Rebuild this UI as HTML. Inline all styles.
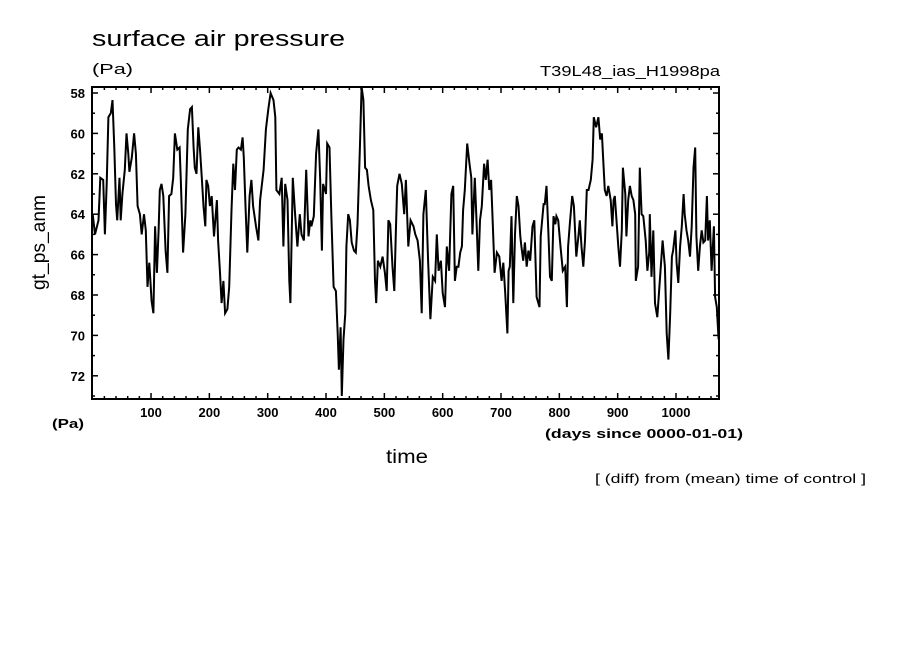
<!DOCTYPE html>
<html><head><meta charset="utf-8"><style>
body{margin:0;background:#fff}
svg{display:block}
text{font-family:"Liberation Sans","DejaVu Sans",sans-serif;fill:#000}
</style></head><body>
<svg id="chart" width="904" height="654" viewBox="0 0 904 654">
<rect width="904" height="654" fill="#fff"/>
<text x="92" y="46" font-size="22" textLength="253" lengthAdjust="spacingAndGlyphs">surface air pressure</text>
<text x="92" y="74" font-size="15" textLength="41" lengthAdjust="spacingAndGlyphs">(Pa)</text>
<text x="540" y="76" font-size="15" textLength="180" lengthAdjust="spacingAndGlyphs">T39L48_ias_H1998pa</text>
<text x="52" y="428" font-size="13" font-weight="bold" textLength="32" lengthAdjust="spacingAndGlyphs">(Pa)</text>
<text x="545" y="438" font-size="13" font-weight="bold" textLength="198" lengthAdjust="spacingAndGlyphs">(days since 0000-01-01)</text>
<text x="386" y="463" font-size="19" textLength="42" lengthAdjust="spacingAndGlyphs">time</text>
<text x="595" y="483" font-size="13" textLength="271" lengthAdjust="spacingAndGlyphs">[ (diff) from (mean) time of control ]</text>
<text x="0" y="0" font-size="19" textLength="95" lengthAdjust="spacingAndGlyphs" transform="translate(45,290) rotate(-90)">gt_ps_anm</text>
<g id="ticks"></g>
<g id="series"></g>
<rect x="92" y="87" width="627" height="312" fill="none" stroke="#000" stroke-width="2"/>
</svg>
<script>
const days=[0,4,10,13,18,21,24,27,31,34,37,40,42,46,48,51,55,58,61,63,67,71,74,77,81,84,88,91,94,97,101,104,107,110,113,115,118,121,125,128,131,135,138,141,145,149,151,155,159,163,167,170,173,175,178,181,184,187,190,193,195,198,201,204,208,213,215,218,221,224,227,231,234,238,241,244,247,250,254,257,259,262,265,269,272,
275,280,284,287,293,297,301,305,310,313,315,320,324,327,330,334,337,339,343,347,351,355,358,362,366,370,373,375,379,383,387,390,393,395,400,402,406,409,413,417,420,422,425,427,430,433,435,438,441,444,448,451,454,458,461,464,467,470,473,477,481,484,486,489,493,497,501,504,507,510,514,517,520,522,526,530,534,537,541,545,550,
553,557,561,564,567,571,575,579,583,587,590,593,597,600,604,607,611,615,618,621,624,627,630,633,635,638,642,646,649,651,655,658,661,664,667,671,674,677,680,683,686,689,693,697,701,704,707,711,713,715,718,721,724,727,730,733,735,738,741,744,747,750,754,757,761,766,768,773,775,778,781,784,787,790,793,795,798,802,806,810,813,815,818,822,
825,829,833,835,838,841,844,847,850,854,857,859,863,867,870,873,875,878,881,884,888,891,893,895,898,901,904,907,909,913,915,918,921,924,927,930,931,935,938,941,944,948,951,954,955,958,961,964,968,971,974,977,981,984,987,990,993,995,999,1001,1004,1007,1010,1013,1015,1018,1021,1024,1027,1030,1033,1035,1038,1041,1044,1047,1050,1053,1055,1058,1061,1065,1067,1070,1073];
const values=[64.0,65.0,64.3,62.2,62.3,65.0,62.5,59.2,59.0,58.35,60.7,63.5,64.3,62.2,64.3,63.0,61.8,60.0,61.0,61.9,61.2,60.0,61.0,63.6,64.0,65.0,64.0,64.8,67.6,66.4,68.3,68.9,64.6,66.9,64.8,62.8,62.5,63.1,65.8,66.9,63.1,63.0,62.2,60.0,60.8,60.7,62.3,65.9,64.0,59.8,58.8,58.7,60.7,61.7,62.0,59.7,60.8,62.2,63.6,64.6,62.3,62.6,63.6,63.1,65.1,63.3,65.3,66.8,68.4,67.3,68.9,68.7,67.6,63.8,61.5,62.8,60.8,60.7,60.8,60.2,61.2,63.6,65.9,63.1,62.3,
63.6,64.6,65.3,63.3,61.8,59.8,58.8,58.0,58.35,59.2,62.8,63.0,62.2,65.6,62.5,63.3,67.3,68.4,62.2,64.0,65.6,64.0,65.0,65.3,61.8,65.1,64.3,64.6,64.1,61.0,59.8,62.3,65.8,62.5,63.0,60.5,60.7,64.0,67.6,67.8,69.9,71.7,69.6,73.0,70.2,68.9,65.6,64.0,64.3,65.4,65.8,65.9,64.5,60.7,57.7,58.35,61.7,61.8,62.6,63.3,63.8,67.3,68.4,66.3,66.6,66.1,66.9,67.8,64.3,64.5,66.6,67.8,64.6,62.6,62.0,62.5,64.0,62.3,65.6,64.3,64.6,
65.0,65.3,66.3,68.9,64.0,62.8,66.3,69.2,67.1,67.3,65.0,66.8,66.3,67.9,68.6,65.6,66.8,63.0,62.6,67.3,66.6,66.6,65.9,65.6,63.8,62.8,60.5,61.5,62.2,65.0,62.2,64.3,66.8,64.3,63.6,61.5,62.3,61.3,62.8,62.3,64.5,66.9,65.9,66.1,67.3,66.4,67.8,69.9,66.8,66.6,64.1,68.4,65.0,63.1,63.6,65.1,65.6,66.3,65.4,66.6,65.8,66.3,64.6,64.3,68.1,68.6,65.1,63.5,63.5,62.6,64.8,67.1,67.3,64.1,64.5,64.1,64.3,65.6,66.8,66.6,68.6,65.6,64.5,63.1,
63.6,66.1,65.0,64.3,65.6,66.6,65.3,62.8,62.8,62.3,61.3,59.2,59.7,59.2,60.3,60.0,61.2,62.8,63.1,62.6,63.3,64.6,63.3,63.1,64.3,65.6,66.6,64.8,61.7,63.0,65.1,63.3,62.6,63.1,63.3,64.0,67.3,66.6,61.7,64.0,64.1,65.3,66.8,65.9,64.0,67.1,64.8,68.4,69.1,67.8,66.6,65.3,66.6,69.9,71.2,68.9,66.1,65.8,64.8,66.4,67.4,65.6,64.6,63.0,64.0,64.8,65.3,66.1,64.6,61.7,60.7,65.1,66.8,65.6,64.8,65.4,65.3,63.1,65.3,64.3,66.8,64.6,68.1,68.6,70.2];
const xTickLabels=[100,200,300,400,500,600,700,800,900,1000];
const yTickLabels=[58,60,62,64,66,68,70,72];

const X0=92,X1=719,Y0=87,Y1=399;
function sx(d){return 92.7+d*0.5833;}
function sy(v){return 93+(v-58)*20.2;}
const NS='http://www.w3.org/2000/svg';
function mk(tag,attrs,parent){const e=document.createElementNS(NS,tag);for(const k in attrs)e.setAttribute(k,attrs[k]);parent.appendChild(e);return e;}
const tg=document.getElementById('ticks');
for(let d=20;d<=1060;d+=20){
  const major=d%100===0, L=major?6:3, x=sx(d);
  const t1=mk('line',{x1:x,x2:x,y1:Y1,y2:Y1-L,stroke:'#000','stroke-width':1.5},tg);
  
  
  const t2=mk('line',{x1:x,x2:x,y1:Y0,y2:Y0+L,stroke:'#000','stroke-width':1.5},tg);
  
  
}
xTickLabels.forEach(v=>{
  const t=mk('text',{x:sx(v),y:417,'font-size':13,'font-weight':'bold','text-anchor':'middle'},tg);
  t.textContent=v;
  
  
});
for(let v=58;v<=73;v+=1){
  const major=v%2===0, L=major?6:3, y=sy(v);
  const a=mk('line',{x1:X0,x2:X0+L,y1:y,y2:y,stroke:'#000','stroke-width':1.5},tg);
  
  
  const b=mk('line',{x1:X1,x2:X1-L,y1:y,y2:y,stroke:'#000','stroke-width':1.5},tg);
  
  
}
yTickLabels.forEach(v=>{
  const t=mk('text',{x:85,y:sy(v)+5,'font-size':13,'font-weight':'bold','text-anchor':'end'},tg);
  t.textContent=v;
  
  
});
const sg=document.getElementById('series');
let pts=[];
for(let i=0;i<days.length;i++){pts.push(sx(days[i]).toFixed(1)+','+sy(values[i]).toFixed(1));}
const line=mk('polyline',{points:pts.join(' '),fill:'none',stroke:'#000','stroke-width':2,'stroke-linejoin':'miter'},sg);


</script>
</body></html>
